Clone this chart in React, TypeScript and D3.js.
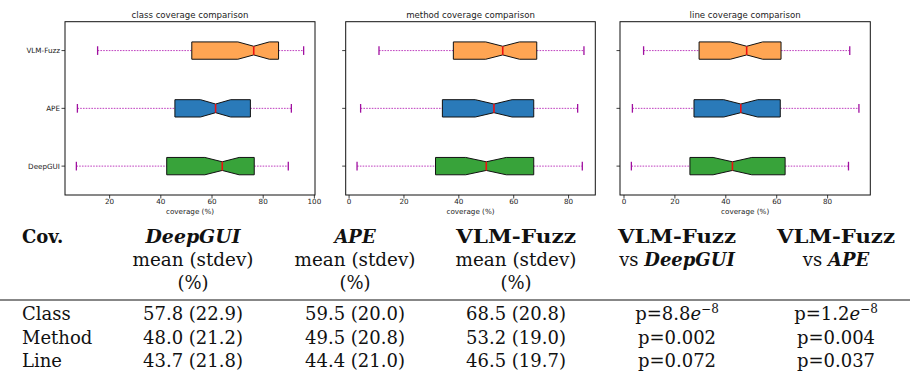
import React from "react";
import * as d3 from "d3";

// ---------- chart data (order: DeepGUI, APE, VLM-Fuzz) ----------
const groups = ["DeepGUI", "APE", "VLM-Fuzz"];
const groupColors = ["#38a33a", "#2a7ab9", "#ffa553"];
const panelTitles = ["class coverage comparison", "method coverage comparison", "line coverage comparison"];
const xTickValues = [[20, 40, 60, 80, 100], [0, 20, 40, 60, 80], [0, 20, 40, 60, 80]];

// rows: class, method, line
const whiskerLow = [[7.0, 7.4, 15.3], [2.9, 4.2, 10.9], [2.9, 3.3, 7.7]];
const q1 = [[42.3, 45.5, 52.1], [31.5, 34.0, 38.0], [25.9, 27.5, 29.5]];
const notchLow = [[57.2, 55.5, 70.1], [42.5, 46.0, 49.8], [35.0, 39.2, 41.8]];
const median = [[64.0, 61.4, 76.3], [50.0, 52.8, 56.0], [42.6, 45.9, 48.2]];
const notchHigh = [[70.6, 67.3, 82.4], [57.3, 59.4, 62.1], [50.2, 52.5, 54.5]];
const q3 = [[76.5, 75.0, 86.0], [67.3, 67.3, 68.4], [63.3, 61.4, 61.7]];
const whiskerHigh = [[89.8, 91.0, 95.8], [85.0, 83.3, 85.6], [88.2, 92.3, 88.7]];

// ---------- table data ----------
const rowLabels = ["Class", "Method", "Line"];
const deepguiMean = [57.8, 48.0, 43.7];
const deepguiSd = [22.9, 21.2, 21.8];
const apeMean = [59.5, 49.5, 44.4];
const apeSd = [20.0, 20.8, 21.0];
const vlmMean = [68.5, 53.2, 46.5];
const vlmSd = [20.8, 19.0, 19.7];
const pVsDeepGUI = ["8.8e-8", "0.002", "0.072"];
const pVsAPE = ["1.2e-8", "0.004", "0.037"];

const W = 910;
const H = 375;
const panelX = [[65, 315], [345.7, 595.3], [620, 870.3]];
const panelTop = 21.7;
const panelBottom = 195;
const sans = "DejaVu Sans";
const serif = "DejaVu Serif";

function Panel({ idx }: { idx: number }) {
  const [x0, x1] = panelX[idx];
  const lo = d3.min(whiskerLow[idx])!;
  const hi = d3.max(whiskerHigh[idx])!;
  const m = (hi - lo) * 0.05;
  const x = d3.scaleLinear().domain([lo - m, hi + m]).range([x0, x1]);
  const y = d3.scaleLinear().domain([0.5, 3.5]).range([panelBottom, panelTop]);
  const halfW = y(0) - y(0.15);
  const capHalf = y(0) - y(0.075);
  return (
    <g>
      <text x={(x0 + x1) / 2} y={18} textAnchor="middle" fontFamily={sans} fontSize={8.6} fill="#222">
        {panelTitles[idx]}
      </text>
      {groups.map((g, i) => {
        const cy = y(i + 1);
        const a = x(q1[idx][i]);
        const nl = x(notchLow[idx][i]);
        const md = x(median[idx][i]);
        const nh = x(notchHigh[idx][i]);
        const b = x(q3[idx][i]);
        const path = d3.path();
        path.moveTo(a, cy - halfW);
        path.lineTo(nl, cy - halfW);
        path.lineTo(md, cy - halfW / 2);
        path.lineTo(nh, cy - halfW);
        path.lineTo(b, cy - halfW);
        path.lineTo(b, cy + halfW);
        path.lineTo(nh, cy + halfW);
        path.lineTo(md, cy + halfW / 2);
        path.lineTo(nl, cy + halfW);
        path.lineTo(a, cy + halfW);
        path.closePath();
        const wl = x(whiskerLow[idx][i]);
        const wh = x(whiskerHigh[idx][i]);
        return (
          <g key={g}>
            <line x1={wl} x2={a} y1={cy} y2={cy} stroke="#bf3fbf" strokeWidth={1} strokeDasharray="1.6,1.2" />
            <line x1={b} x2={wh} y1={cy} y2={cy} stroke="#bf3fbf" strokeWidth={1} strokeDasharray="1.6,1.2" />
            <line x1={wl} x2={wl} y1={cy - capHalf} y2={cy + capHalf} stroke="#a010a0" strokeWidth={1.3} />
            <line x1={wh} x2={wh} y1={cy - capHalf} y2={cy + capHalf} stroke="#a010a0" strokeWidth={1.3} />
            <path d={path.toString()} fill={groupColors[i]} stroke="#111" strokeWidth={1} />
            <line x1={md} x2={md} y1={cy - halfW / 2} y2={cy + halfW / 2} stroke="#ee1111" strokeWidth={1.6} />
            <line x1={x0} x2={x0 - 3.5} y1={cy} y2={cy} stroke="#111" strokeWidth={0.8} />
            {idx === 0 && (
              <text x={x0 - 5} y={cy + 2.6} textAnchor="end" fontFamily={sans} fontSize={7.2} fill="#222">
                {g}
              </text>
            )}
          </g>
        );
      })}
      <rect x={x0} y={panelTop} width={x1 - x0} height={panelBottom - panelTop} fill="none" stroke="#111" strokeWidth={1} />
      {xTickValues[idx].map((t) => (
        <g key={t}>
          <line x1={x(t)} x2={x(t)} y1={panelBottom} y2={panelBottom + 3.5} stroke="#111" strokeWidth={0.8} />
          <text x={x(t)} y={204} textAnchor="middle" fontFamily={sans} fontSize={7.2} fill="#222">
            {t}
          </text>
        </g>
      ))}
      <text x={(x0 + x1) / 2} y={213.5} textAnchor="middle" fontFamily={sans} fontSize={7.2} fill="#222">
        coverage (%)
      </text>
    </g>
  );
}

const colX = [193, 355, 516, 677, 836];
const hdrY = [243, 266, 289];
const rowY = [320, 343.5, 367];
const FS = 18;

function PVal({ v, x, yy }: { v: string; x: number; yy: number }) {
  if (v.includes("e")) {
    const [mant, exp] = v.split("e");
    return (
      <text x={x} y={yy} textAnchor="middle" fontFamily={serif} fontSize={FS} fill="#111">
        {"p=" + mant}
        <tspan fontStyle="italic">e</tspan>
        <tspan dy={-7} fontSize={12}>{exp.replace("-", "\u2212")}</tspan>
      </text>
    );
  }
  return (
    <text x={x} y={yy} textAnchor="middle" fontFamily={serif} fontSize={FS} fill="#111">
      {"p=" + v}
    </text>
  );
}

function Table() {
  const t = (s: string, x: number, yy: number, extra: any = {}) => (
    <text x={x} y={yy} textAnchor="middle" fontFamily={serif} fontSize={FS} fill="#111" {...extra}>
      {s}
    </text>
  );
  const fmt = d3.format(".1f");
  return (
    <g>
      <text x={22} y={hdrY[0]} fontFamily={serif} fontSize={FS} fontWeight="bold" fill="#111">Cov.</text>
      {t(groups[0], colX[0], hdrY[0], { fontWeight: "bold", fontStyle: "italic", textLength: 95, lengthAdjust: "spacingAndGlyphs" })}
      {t(groups[1], colX[1], hdrY[0], { fontWeight: "bold", fontStyle: "italic" })}
      {t(groups[2], colX[2], hdrY[0], { fontWeight: "bold", textLength: 120, lengthAdjust: "spacingAndGlyphs" })}
      {t(groups[2], colX[3], hdrY[0], { fontWeight: "bold", textLength: 118, lengthAdjust: "spacingAndGlyphs" })}
      {t(groups[2], colX[4], hdrY[0], { fontWeight: "bold", textLength: 118, lengthAdjust: "spacingAndGlyphs" })}
      {[0, 1, 2].map((c) => (
        <g key={c}>
          {t("mean (stdev)", colX[c], hdrY[1], { textLength: 121, lengthAdjust: "spacingAndGlyphs" })}
          {t("(%)", colX[c], hdrY[2])}
        </g>
      ))}
      <text x={colX[3]} y={hdrY[1]} textAnchor="middle" fontFamily={serif} fontSize={FS} fill="#111">
        {"vs "}
        <tspan fontWeight="bold" fontStyle="italic">{groups[0]}</tspan>
      </text>
      <text x={colX[4]} y={hdrY[1]} textAnchor="middle" fontFamily={serif} fontSize={FS} fill="#111">
        {"vs "}
        <tspan fontWeight="bold" fontStyle="italic">{groups[1]}</tspan>
      </text>
      <line x1={0} x2={W} y1={300} y2={300} stroke="#111" strokeWidth={1.2} />
      {rowLabels.map((r, i) => (
        <g key={r}>
          <text x={22} y={rowY[i]} fontFamily={serif} fontSize={FS} fill="#111">{r}</text>
          {t(`${fmt(deepguiMean[i])} (${fmt(deepguiSd[i])})`, colX[0], rowY[i])}
          {t(`${fmt(apeMean[i])} (${fmt(apeSd[i])})`, colX[1], rowY[i])}
          {t(`${fmt(vlmMean[i])} (${fmt(vlmSd[i])})`, colX[2], rowY[i])}
          <PVal v={pVsDeepGUI[i]} x={colX[3]} yy={rowY[i]} />
          <PVal v={pVsAPE[i]} x={colX[4]} yy={rowY[i]} />
        </g>
      ))}
    </g>
  );
}

export default function App() {
  return (
    <svg width={W} height={H} style={{ position: "absolute", left: 0, top: 0, background: "#fff" }}>
      <rect width={W} height={H} fill="#fff" />
      {[0, 1, 2].map((i) => (
        <Panel key={i} idx={i} />
      ))}
      <Table />
    </svg>
  );
}
